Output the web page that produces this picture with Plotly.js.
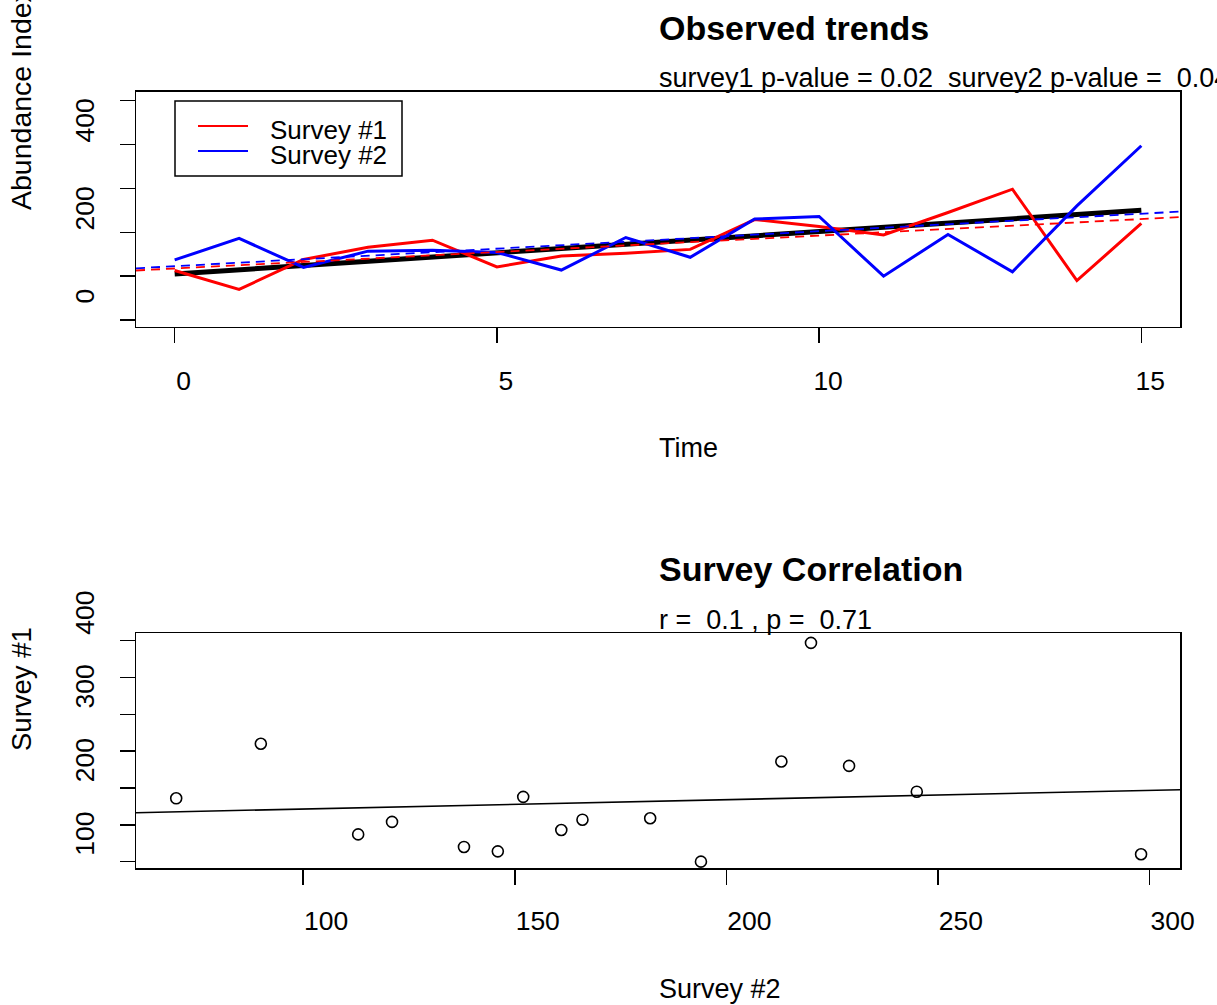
<!DOCTYPE html>
<html>
<head>
<meta charset="utf-8">
<script src="https://cdn.plot.ly/plotly-3.0.1.min.js"></script>
<style>html,body{margin:0;padding:0;background:#fff;}#chart{width:1217px;height:1005px;}</style>
</head>
<body>
<div id="chart"></div>
<script>
// ---- data ----
const time = [0, 1, 2, 3, 4, 5, 6, 7, 8, 9, 10, 11, 12, 13, 14, 15];
const survey1 = [113, 70, 138, 166, 182, 121, 146, 152, 161, 229, 213, 194, 245, 298, 90, 220];
const survey2 = [137, 186, 120, 157, 159, 154, 114, 188, 143, 230, 236, 100, 195, 110, 260, 397];
const trueTime = [0, 15];
const trueAbundance = [105, 250];
const fitTime = [-0.6, 15.6];
const fit1 = [113, 234.5];
const fit2 = [118, 247];
const regX = [60.5, 307.2];
const regY = [166.5, 197.7];
const timeTicks = [0, 5, 10, 15];
const topYTicks = [0, 100, 200, 300, 400, 500];
const topYText = ['0', '', '200', '', '400', ''];
const botXTicks = [100, 150, 200, 250, 300];
const botYTicks = [100, 150, 200, 250, 300, 350, 400];
const botYText = ['100', '', '200', '', '300', '', '400'];
const legendNames = ['Survey #1', 'Survey #2'];
const legendColors = ['#ff0000', '#0000ff'];

const FONT = 'Liberation Sans, Arial, Helvetica, sans-serif';

const traces = [
  {x: trueTime, y: trueAbundance, mode: 'lines', line: {color: 'black', width: 5}, xaxis: 'x', yaxis: 'y'},
  {x: time, y: survey1, mode: 'lines', name: legendNames[0], line: {color: legendColors[0], width: 3}, xaxis: 'x', yaxis: 'y'},
  {x: time, y: survey2, mode: 'lines', name: legendNames[1], line: {color: legendColors[1], width: 3}, xaxis: 'x', yaxis: 'y'},
  {x: fitTime, y: fit1, mode: 'lines', line: {color: '#ff0000', width: 1.8, dash: '9px,6px'}, xaxis: 'x', yaxis: 'y'},
  {x: fitTime, y: fit2, mode: 'lines', line: {color: '#0000ff', width: 1.8, dash: '9px,6px'}, xaxis: 'x', yaxis: 'y'},
  {x: survey1, y: survey2, mode: 'markers', marker: {symbol: 'circle-open', size: 11, color: 'black', line: {width: 1.6, color: 'black'}}, xaxis: 'x2', yaxis: 'y2'},
  {x: regX, y: regY, mode: 'lines', line: {color: 'black', width: 1.6}, xaxis: 'x2', yaxis: 'y2'}
];

const axisBase = {
  showgrid: false, zeroline: false, showline: true, mirror: true,
  linecolor: 'black', linewidth: 1.5,
  ticks: 'outside', ticklen: 15, tickwidth: 1.5, tickcolor: 'black',
  tickfont: {family: FONT, size: 26.5, color: 'black'},
  tickmode: 'array', fixedrange: true
};

function px2x(px) { return (px - 136) / 1044; }
function px2y(py) { return 1 - py / 1005; }

const annFont = {family: FONT, size: 27, color: 'black'};
const titleFont = {family: FONT, size: 34, color: 'black'};
const annotations = [
  {text: '<b>Observed trends</b>', x: px2x(657), y: px2y(28), xanchor: 'left', yanchor: 'middle', font: titleFont},
  {text: 'survey1 p-value = 0.02\u00a0 survey2 p-value =\u00a0 0.04', x: px2x(657), y: px2y(78), xanchor: 'left', yanchor: 'middle', font: annFont},
  {text: 'Time', x: px2x(657), y: px2y(448), xanchor: 'left', yanchor: 'middle', font: annFont},
  {text: 'Abundance Index', x: px2x(21), y: px2y(212), xanchor: 'center', yanchor: 'bottom', textangle: -90, font: {family: FONT, size: 28.5, color: 'black'}},
  {text: '<b>Survey Correlation</b>', x: px2x(657), y: px2y(569), xanchor: 'left', yanchor: 'middle', font: titleFont},
  {text: 'r =\u00a0 0.1 , p =\u00a0 0.71', x: px2x(657), y: px2y(620), xanchor: 'left', yanchor: 'middle', font: annFont},
  {text: 'Survey #2', x: px2x(657), y: px2y(989), xanchor: 'left', yanchor: 'middle', font: annFont},
  {text: 'Survey #1', x: px2x(21), y: px2y(753), xanchor: 'center', yanchor: 'bottom', textangle: -90, font: {family: FONT, size: 27.5, color: 'black'}},
  // legend labels
  {text: legendNames[0], x: px2x(268), y: px2y(130), xanchor: 'left', yanchor: 'middle', font: {family: FONT, size: 26, color: 'black'}},
  {text: legendNames[1], x: px2x(268), y: px2y(155), xanchor: 'left', yanchor: 'middle', font: {family: FONT, size: 26, color: 'black'}}
].map(a => Object.assign({xref: 'paper', yref: 'paper', showarrow: false}, a));

const shapes = [
  {type: 'rect', xref: 'paper', yref: 'paper', x0: px2x(175), x1: px2x(402), y0: px2y(101), y1: px2y(176), line: {color: 'black', width: 1.5}, fillcolor: 'white', layer: 'above'},
  {type: 'line', xref: 'paper', yref: 'paper', x0: px2x(198), x1: px2x(248), y0: px2y(126), y1: px2y(126), line: {color: legendColors[0], width: 2}, layer: 'above'},
  {type: 'line', xref: 'paper', yref: 'paper', x0: px2x(198), x1: px2x(248), y0: px2y(151), y1: px2y(151), line: {color: legendColors[1], width: 2}, layer: 'above'}
];

const layout = {
  width: 1217, height: 1005,
  margin: {l: 136, r: 37, t: 0, b: 0},
  paper_bgcolor: 'white', plot_bgcolor: 'white',
  font: {family: FONT, color: 'black'},
  showlegend: false,
  xaxis: Object.assign({}, axisBase, {domain: [0, 1], anchor: 'y', range: [-0.6, 15.6], tickvals: timeTicks, ticktext: timeTicks.map(String), ticklabelshift: 9, ticklabelstandoff: 15}),
  yaxis: Object.assign({}, axisBase, {domain: [px2y(326.7), px2y(91.7)], anchor: 'x', range: [-15, 520], tickvals: topYTicks, ticktext: topYText, tickangle: -90, ticklabelshift: -20, ticklabelstandoff: 15}),
  xaxis2: Object.assign({}, axisBase, {domain: [0, 1], anchor: 'y2', range: [60.5, 307.2], tickvals: botXTicks, ticktext: botXTicks.map(String), ticklabelshift: 23, ticklabelstandoff: 13}),
  yaxis2: Object.assign({}, axisBase, {domain: [px2y(868.3), px2y(633.3)], anchor: 'x2', range: [91, 410], tickvals: botYTicks, ticktext: botYText, tickangle: -90, ticklabelshift: -24, ticklabelstandoff: 15}),
  annotations: annotations,
  shapes: shapes
};

Plotly.newPlot('chart', traces, layout, {displayModeBar: false, staticPlot: true});
</script>
</body>
</html>
